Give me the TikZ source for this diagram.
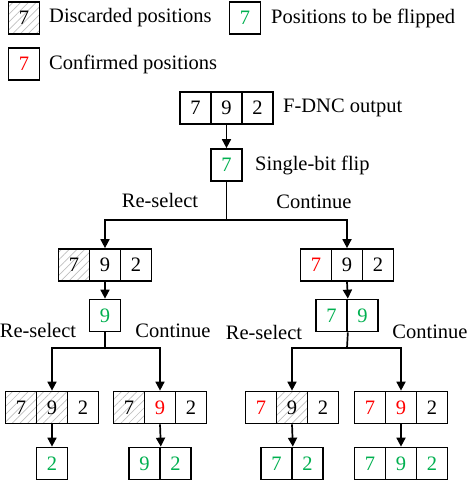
\documentclass[tikz,border=0pt]{standalone}
\usepackage{fontspec}
\setmainfont{Liberation Serif}
\usetikzlibrary{arrows.meta,patterns.meta}
\definecolor{fgreen}{RGB}{0,176,80}
\definecolor{fred}{RGB}{255,0,0}
\tikzset{
  cell/.style={draw, line width=1.7pt, minimum width=31pt, minimum height=32pt, inner sep=0pt, fill=white},
  hatch/.style={cell, pattern={Lines[angle=45,distance=5.5pt,line width=0.7pt]}, pattern color=black!25},
  gd/.style={text=fgreen},
  rd/.style={text=fred},
  lbl/.style={inner sep=0pt, anchor=west},
  clbl/.style={inner sep=0pt},
  conn/.style={line width=1.7pt},
  arr/.style={line width=1.7pt, -{Triangle[width=9pt,length=9pt]}}
}
\begin{document}
\begin{tikzpicture}[x=1pt,y=-1pt,font=\fontsize{20.5}{24}\selectfont]
\useasboundingbox (0,0) rectangle (470,482);
% legend
\node[hatch] (lg1) at (24,18) {7};
\node[lbl] (lt1) at (49,18) {Discarded positions};
\node[cell,gd] (lg2) at (245,18) {7};
\node[lbl] (lt2) at (271,18) {Positions to be flipped};
\node[cell,rd] (lg3) at (24,64) {7};
\node[lbl] (lt3) at (49,64) {Confirmed positions};
% top
\node[cell] (t1) at (195.5,108) {7};
\node[cell] (t2) at (226.5,108) {9};
\node[cell] (t3) at (257.5,108) {2};
\node[lbl] (tl) at (283,108) {F-DNC output};
\node[cell,gd] (s1) at (226.5,165) {7};
\node[lbl] (sl) at (255,165) {Single-bit flip};
\coordinate (j1) at (226.5,220);
\node[clbl] (rs1) at (160,200) {Re-select};
\node[clbl] (ct1) at (314,202) {Continue};
\draw[arr] (t2.south) -- (s1.north);
\draw[conn] (s1.south) -- (j1);
% row 2
\node[hatch] (a1) at (74,265) {7};
\node[cell] (a2) at (105,265) {9};
\node[cell] (a3) at (136,265) {2};
\node[cell,rd] (b1) at (316,265) {7};
\node[cell] (b2) at (347,265) {9};
\node[cell] (b3) at (378,265) {2};
\draw[arr] (j1) -| (a2.north);
\draw[arr] (j1) -| (b2.north);
% row 3
\node[cell,gd] (c1) at (105,315.5) {9};
\node[cell,gd] (d1) at (331.5,315.5) {7};
\node[cell,gd] (d2) at (362.5,315.5) {9};
\draw[arr] (a2.south) -- (c1.north);
\draw[arr] (b2.south) -- (d1.north east);
\coordinate (j2) at (105,348);
\coordinate (j3) at (347,348);
\draw[conn] (c1.south) -- (j2);
\draw[conn] (d1.south east) -- (j3);
\node[clbl] (rs2) at (38,330) {Re-select};
\node[clbl] (ct2) at (173,331) {Continue};
\node[clbl] (rs3) at (264,332) {Re-select};
\node[clbl] (ct3) at (430,332) {Continue};
% row 4
\node[hatch] (e1) at (21,407.5) {7};
\node[hatch] (e2) at (52,407.5) {9};
\node[cell] (e3) at (83,407.5) {2};
\node[hatch] (f1) at (129,407.5) {7};
\node[cell,rd] (f2) at (160,407.5) {9};
\node[cell] (f3) at (191,407.5) {2};
\node[cell,rd] (g1) at (261,407.5) {7};
\node[hatch] (g2) at (292,407.5) {9};
\node[cell] (g3) at (323,407.5) {2};
\node[cell,rd] (h1) at (370,407.5) {7};
\node[cell,rd] (h2) at (401,407.5) {9};
\node[cell] (h3) at (432,407.5) {2};
\draw[arr] (j2) -| (e2.north);
\draw[arr] (j2) -| (f2.north);
\draw[arr] (j3) -| (g2.north);
\draw[arr] (j3) -| (h2.north);
% row 5
\node[cell,gd] (k1) at (52,463.5) {2};
\node[cell,gd] (m1) at (144.5,463.5) {9};
\node[cell,gd] (m2) at (175.5,463.5) {2};
\node[cell,gd] (n1) at (276.5,463.5) {7};
\node[cell,gd] (n2) at (307.5,463.5) {2};
\node[cell,gd] (p1) at (370,463.5) {7};
\node[cell,gd] (p2) at (401,463.5) {9};
\node[cell,gd] (p3) at (432,463.5) {2};
\draw[arr] (e2.south) -- (k1.north);
\draw[arr] (f2.south) -- (m1.north east);
\draw[arr] (g2.south) -- (n1.north east);
\draw[arr] (h2.south) -- (p2.north);
\end{tikzpicture}
\end{document}
